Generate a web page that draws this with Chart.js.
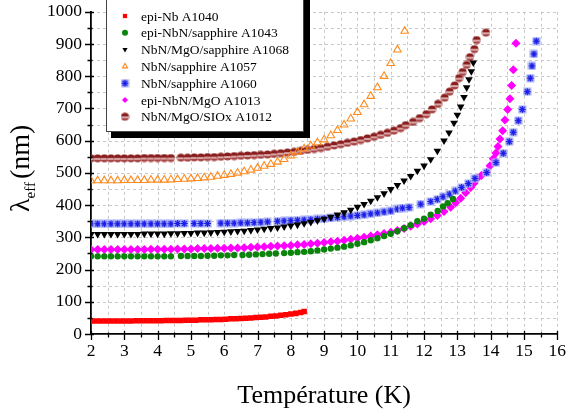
<!DOCTYPE html>
<html>
<head>
<meta charset="utf-8">
<script src="https://cdn.jsdelivr.net/npm/chart.js@4.4.1/dist/chart.umd.min.js"></script>
<style>
  html, body { margin: 0; padding: 0; background: #fff; }
  #wrap { width: 569px; height: 412px; }
</style>
</head>
<body>
<div id="wrap"><canvas id="chart" width="569" height="412"></canvas></div>
<script>
// penetration depth vs temperature, one [T (K), lambda_eff (nm)] list per sample
const A1040 = [[2.00,40],[2.15,40],[2.30,40],[2.45,40],[2.60,40],[2.75,40],[2.90,40],[3.05,40],[3.20,40],
  [3.35,41],[3.50,41],[3.65,41],[3.80,41],[3.95,41],[4.10,41],[4.25,42],[4.40,42],[4.55,42],[4.70,42],
  [4.85,43],[5.00,43],[5.15,43],[5.30,44],[5.45,44],[5.60,44],[5.75,45],[5.90,45],[6.05,46],[6.20,47],
  [6.35,47],[6.50,48],[6.65,49],[6.80,50],[6.95,51],[7.10,52],[7.25,53],[7.40,55],[7.55,56],[7.70,58],
  [7.85,60],[8.00,62],[8.15,64],[8.30,67],[8.40,70]];

const A1043 = [[2.0,241],[2.2,241],[2.4,241],[2.6,241],[2.8,241],[3.0,241],[3.2,241],[3.4,241],[3.6,241],
  [3.8,241],[4.0,241],[4.2,241],[4.4,241],[4.7,242],[4.9,242],[5.1,242],[5.3,242],[5.5,243],[5.7,243],
  [5.9,244],[6.1,244],[6.3,245],[6.55,245],[6.75,246],[6.95,247],[7.15,248],[7.35,249],[7.55,250],[7.8,251],
  [8.0,252],[8.2,254],[8.4,255],[8.6,257],[8.8,259],[9.0,262],[9.2,265],[9.4,268],[9.6,271],[9.8,275],
  [10.0,280],[10.2,285],[10.4,291],[10.6,297],[10.8,304],[11.0,311],[11.2,319],[11.4,328],[11.6,338],
  [11.8,350],[12.0,358],[12.2,370],[12.41,382],[12.57,396],[12.71,406],[12.87,419]];

const A1068 = [[2.0,310],[2.2,310],[2.4,310],[2.6,310],[2.8,310],[3.0,310],[3.2,310],[3.4,310],[3.6,311],
  [3.8,311],[4.0,311],[4.2,311],[4.4,312],[4.6,312],[4.8,313],[5.0,313],[5.2,314],[5.4,314],[5.6,315],
  [5.8,316],[6.0,317],[6.2,318],[6.4,319],[6.6,320],[6.8,322],[7.0,324],[7.2,326],[7.4,328],[7.6,330],
  [7.8,333],[8.0,336],[8.2,339],[8.4,343],[8.6,347],[8.8,352],[9.0,357],[9.2,363],[9.4,370],[9.6,377],
  [9.8,385],[10.0,394],[10.2,403],[10.4,413],[10.6,424],[10.8,436],[11.0,449],[11.2,462],[11.4,476],
  [11.6,490],[11.8,506],[12.0,522],[12.2,542],[12.4,568],[12.6,600],[12.75,625],[12.9,655],[13.0,680],
  [13.1,705],[13.2,735],[13.28,765],[13.35,790],[13.42,815],[13.48,842]];

const A1057 = [[2.0,476],[2.2,476],[2.4,476],[2.6,476],[2.8,476],[3.0,477],[3.2,477],[3.4,477],[3.6,477],
  [3.8,478],[4.0,478],[4.2,478],[4.4,479],[4.6,480],[4.8,481],[5.0,482],[5.2,483],[5.4,485],[5.6,487],
  [5.8,490],[6.0,493],[6.2,496],[6.4,500],[6.6,504],[6.8,509],[7.0,515],[7.2,521],[7.4,527],[7.6,534],
  [7.8,542],[8.0,553],[8.2,565],[8.4,575],[8.6,584],[8.8,594],[9.0,603],[9.2,616],[9.4,632],[9.6,649],
  [9.8,668],[10.0,688],[10.2,712],[10.4,738],[10.6,765],[10.8,800],[11.0,840],[11.2,882],[11.42,940]];

const A1060 = [[2.0,342],[2.2,342],[2.4,342],[2.6,342],[2.8,342],[3.0,342],[3.2,342],[3.4,342],[3.6,342],
  [3.8,342],[4.0,342],[4.2,342],[4.4,342],[4.6,343],[4.8,343],[5.1,343],[5.3,343],[5.5,343],[5.9,344],
  [6.1,344],[6.3,344],[6.5,345],[6.7,345],[6.9,346],[7.1,347],[7.3,348],[7.6,350],[7.8,351],[8.0,352],
  [8.2,353],[8.4,354],[8.6,355],[8.8,357],[9.0,358],[9.2,360],[9.4,362],[9.6,364],[9.8,366],[10.0,368],
  [10.2,370],[10.4,373],[10.6,376],[10.8,379],[11.0,382],[11.2,388],[11.35,391],[11.55,393],[11.9,403],
  [12.2,411],[12.4,418],[12.57,426],[12.77,434],[12.94,444],[13.13,455],[13.33,467],[13.53,483],
  [13.88,501],[14.16,532],[14.38,561],[14.56,597],[14.68,626],[14.83,662],[14.95,697],[15.1,752],
  [15.19,794],[15.24,832],[15.3,869],[15.37,909]];

const A1013 = [[2.0,262],[2.2,262],[2.4,262],[2.6,262],[2.8,262],[3.0,262],[3.2,262],[3.4,262],[3.6,262],
  [3.8,263],[4.0,263],[4.2,263],[4.4,263],[4.6,264],[4.8,264],[5.0,264],[5.2,265],[5.4,265],[5.6,265],
  [5.8,266],[6.0,266],[6.2,267],[6.4,267],[6.6,268],[6.8,269],[7.0,270],[7.2,271],[7.4,272],[7.6,273],
  [7.8,274],[8.0,275],[8.2,277],[8.4,278],[8.6,280],[8.8,282],[9.0,284],[9.2,286],[9.4,288],[9.6,291],
  [9.8,294],[10.0,297],[10.2,300],[10.4,304],[10.6,308],[10.8,312],[11.0,316],[11.2,321],[11.4,327],
  [11.6,334],[11.8,341],[12.0,349],[12.2,358],[12.4,368],[12.6,380],[12.8,393],[12.95,407],[13.1,421],
  [13.25,438],[13.4,455],[13.5,468],[13.6,483],[13.72,492],[13.88,503],[13.98,522],[14.08,544],
  [14.16,562],[14.22,582],[14.28,605],[14.36,631],[14.43,664],[14.51,697],[14.58,730],[14.63,771],
  [14.68,820],[14.76,902]];

const A1012 = [[2.0,545],[2.2,545],[2.4,545],[2.6,545],[2.8,545],[3.0,545],[3.2,545],[3.4,545],[3.6,546],
  [3.8,546],[4.0,546],[4.2,546],[4.4,546],[4.7,547],[4.9,547],[5.1,548],[5.3,548],[5.5,549],[5.7,549],
  [5.9,550],[6.1,551],[6.3,552],[6.5,553],[6.7,554],[6.9,555],[7.1,556],[7.3,557],[7.5,559],[7.7,561],
  [7.9,563],[8.1,565],[8.3,568],[8.5,571],[8.7,574],[8.9,577],[9.1,581],[9.3,585],[9.5,589],[9.7,593],
  [9.9,597],[10.1,602],[10.3,607],[10.5,612],[10.7,618],[10.9,624],[11.1,631],[11.3,639],[11.45,648],
  [11.67,658],[11.87,670],[12.07,682],[12.24,697],[12.42,714],[12.62,733],[12.77,752],[12.92,771],
  [13.05,794],[13.16,813],[13.28,835],[13.38,859],[13.51,884],[13.58,912],[13.86,935]];

const LABELS = ["epi-Nb A1040", "epi-NbN/sapphire A1043", "NbN/MgO/sapphire A1068", "NbN/sapphire A1057",
                "NbN/sapphire A1060", "epi-NbN/MgO A1013", "NbN/MgO/SIOx A1012"];
const X_TICKS = { min: 2, max: 16, step: 0.5 };
const Y_TICKS = { min: 0, max: 1000, step: 50 };

const SERIF = '"Liberation Serif", "Times New Roman", serif';

// asterisk on a pale square, as the plotting program drew them
function blueStar() {
  const c = document.createElement("canvas");
  c.width = 9; c.height = 9;
  const g = c.getContext("2d");
  g.fillStyle = "#aab4f5";
  g.fillRect(0.5, 0.5, 8, 8);
  g.strokeStyle = "#1c1ce8";
  g.lineWidth = 1.2;
  g.beginPath();
  g.moveTo(4.5, 1); g.lineTo(4.5, 8);
  g.moveTo(1, 4.5); g.lineTo(8, 4.5);
  g.moveTo(2, 2); g.lineTo(7, 7);
  g.moveTo(7, 2); g.lineTo(2, 7);
  g.stroke();
  return c;
}

// half-filled circle (dark top, lighter bottom)
function halfCircle() {
  const c = document.createElement("canvas");
  c.width = 9; c.height = 9;
  const g = c.getContext("2d");
  g.fillStyle = "#8a1e1e";
  g.beginPath(); g.arc(4.5, 4.5, 4, Math.PI, 2 * Math.PI); g.fill();
  g.fillStyle = "#a84646";
  g.beginPath(); g.arc(4.5, 4.5, 4, 0, Math.PI); g.fill();
  g.fillStyle = "#f0d4d4";
  g.fillRect(1, 4.5, 7, 1.2);
  return c;
}

const toXY = (arr) => arr.map(([x, y]) => ({ x, y }));

const datasets = [
  { label: LABELS[0], data: toXY(A1040), pointStyle: "rect", pointRadius: 3.9,
    backgroundColor: "#ff0000", borderColor: "#ff0000", borderWidth: 0 },
  { label: LABELS[1], data: toXY(A1043), pointStyle: "circle", pointRadius: 3.2,
    backgroundColor: "#0b840b", borderColor: "#0b840b", borderWidth: 0 },
  { label: LABELS[2], data: toXY(A1068), pointStyle: "triangle", rotation: 180, pointRadius: 4.4,
    backgroundColor: "#000", borderColor: "#000", borderWidth: 0 },
  { label: LABELS[3], data: toXY(A1057), pointStyle: "triangle", pointRadius: 4.4,
    backgroundColor: "rgba(255,255,255,0)", borderColor: "#ff8a1e", borderWidth: 1.1 },
  { label: LABELS[4], data: toXY(A1060), pointStyle: blueStar(), pointRadius: 4.5,
    backgroundColor: "#2020ee", borderColor: "#2020ee", borderWidth: 0 },
  { label: LABELS[5], data: toXY(A1013), pointStyle: "rectRot", pointRadius: 4.5,
    backgroundColor: "#ff00ff", borderColor: "#ff00ff", borderWidth: 0 },
  { label: LABELS[6], data: toXY(A1012), pointStyle: halfCircle(), pointRadius: 4.5,
    backgroundColor: "#8a1e1e", borderColor: "#8a1e1e", borderWidth: 0 },
];

// legend box, y title with subscript, axis ticks and the dashed grid
const decorations = {
  id: "decorations",
  afterDraw(chart) {
    const { ctx, chartArea: a, scales: { x, y } } = chart;

    // legend box with a heavy drop shadow
    const bx = 106, by = -5, bw = 198, bh = 137;
    ctx.save();
    ctx.fillStyle = "#000";
    ctx.fillRect(bx + 5, by + 5, bw + 1, bh + 1);
    ctx.fillStyle = "#fff";
    ctx.fillRect(bx, by, bw, bh);
    ctx.strokeStyle = "#444";
    ctx.lineWidth = 1;
    ctx.strokeRect(bx + 0.5, by + 0.5, bw - 1, bh - 1);
    ctx.font = `13.5px ${SERIF}`;
    ctx.textBaseline = "middle";
    ctx.textAlign = "left";
    chart.data.datasets.forEach((ds, i) => {
      const ly = 16 + i * 16.8;
      ctx.fillStyle = ds.backgroundColor;
      ctx.strokeStyle = ds.borderColor;
      ctx.lineWidth = ds.borderWidth || 1;
      Chart.helpers.drawPoint(ctx, {
        pointStyle: ds.pointStyle, rotation: ds.rotation || 0,
        radius: 3, borderWidth: ds.borderWidth,
      }, 125, ly);
      ctx.fillStyle = "#000";
      ctx.fillText(ds.label, 141, ly + 1);
    });
    ctx.restore();

    // dashed grid slipped underneath everything already painted
    ctx.save();
    ctx.globalCompositeOperation = "destination-over";
    ctx.strokeStyle = "#c8c8c8";
    ctx.lineWidth = 1;
    ctx.setLineDash([3, 3]);
    ctx.beginPath();
    x.ticks.forEach((t) => {
      if (t.value === X_TICKS.min) return;
      const px = Math.round(x.getPixelForValue(t.value)) + 0.5;
      ctx.moveTo(px, a.top); ctx.lineTo(px, a.bottom);
    });
    y.ticks.forEach((t) => {
      if (t.value === Y_TICKS.min) return;
      const py = Math.round(y.getPixelForValue(t.value)) + 0.5;
      ctx.moveTo(a.left, py); ctx.lineTo(a.right, py);
    });
    ctx.stroke();
    ctx.restore();

    // major / minor tick marks
    ctx.save();
    ctx.strokeStyle = "#000";
    ctx.lineWidth = 1.3;
    ctx.beginPath();
    x.ticks.forEach((t) => {
      const px = Math.round(x.getPixelForValue(t.value)) + 0.5;
      const major = Number.isInteger(t.value);
      ctx.moveTo(px, a.bottom - (major ? 3 : 1.5));
      ctx.lineTo(px, a.bottom + (major ? 6 : 3.5));
    });
    y.ticks.forEach((t) => {
      const py = Math.round(y.getPixelForValue(t.value)) + 0.5;
      const major = t.value % 100 === 0;
      ctx.moveTo(a.left - (major ? 6 : 3.5), py);
      ctx.lineTo(a.left + (major ? 3 : 1.5), py);
    });
    ctx.stroke();
    ctx.restore();

    // rotated y title: lambda with "eff" subscript
    ctx.save();
    ctx.translate(29, 212);
    ctx.rotate(-Math.PI / 2);
    ctx.fillStyle = "#000";
    ctx.textBaseline = "alphabetic";
    ctx.textAlign = "left";
    ctx.font = `28px ${SERIF}`;
    ctx.fillText("λ", 0, 0);
    let tx = ctx.measureText("λ").width;
    ctx.font = `15px ${SERIF}`;
    ctx.fillText("eff", tx, 6);
    tx += ctx.measureText("eff").width + 3;
    ctx.font = `28px ${SERIF}`;
    ctx.fillText("(nm)", tx, 0);
    ctx.restore();
  },
};

new Chart(document.getElementById("chart"), {
  type: "scatter",
  data: { datasets },
  options: {
    responsive: false,
    animation: false,
    devicePixelRatio: 1,
    layout: { padding: { top: 8, right: 8, left: 0, bottom: 0 } },
    plugins: { legend: { display: false }, tooltip: { enabled: false } },
    scales: {
      x: {
        type: "linear", position: "bottom",
        min: X_TICKS.min, max: X_TICKS.max,
        afterFit: (s) => { s.height = 78; },
        ticks: {
          stepSize: X_TICKS.step, autoSkip: false, maxRotation: 0, color: "#000", padding: 3,
          font: { family: SERIF, size: 17.5, lineHeight: 1 },
          callback: (v) => (Number.isInteger(v) ? v : ""),
        },
        grid: { display: false, drawTicks: true, tickLength: 6 },
        border: { display: true, color: "#000", width: 1.8 },
        title: { display: true, text: "Température (K)", color: "#000",
                 font: { family: SERIF, size: 26 }, padding: { top: 0, bottom: 0 } },
      },
      y: {
        type: "linear",
        min: Y_TICKS.min, max: Y_TICKS.max,
        afterFit: (s) => { s.width = 91; },
        ticks: {
          stepSize: Y_TICKS.step, autoSkip: false, color: "#000", padding: 3,
          font: { family: SERIF, size: 17.5, lineHeight: 1 },
          callback: (v) => (v % 100 === 0 ? v : ""),
        },
        grid: { display: false, drawTicks: true, tickLength: 6 },
        border: { display: true, color: "#000", width: 1.8 },
      },
    },
  },
  plugins: [decorations],
});
</script>
</body>
</html>
